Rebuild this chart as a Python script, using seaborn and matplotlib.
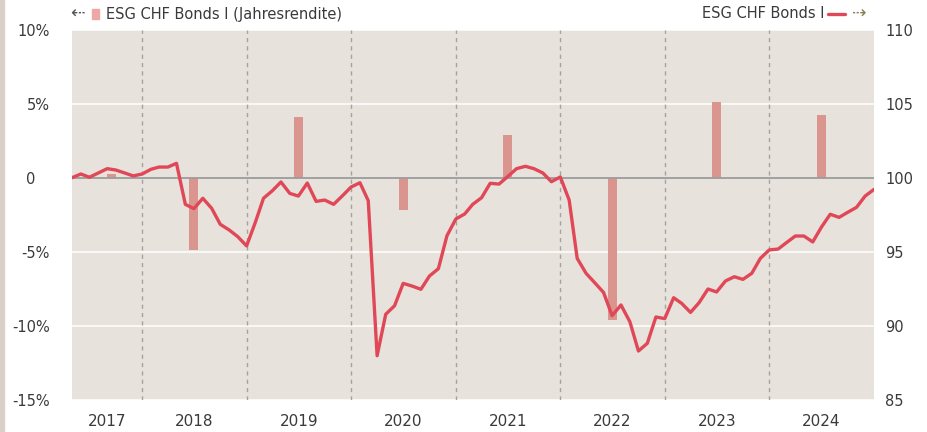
import numpy as np
import pandas as pd
import matplotlib
matplotlib.use("Agg")
import matplotlib.pyplot as plt
import matplotlib.dates as mdates
import seaborn as sns
from matplotlib.lines import Line2D
from matplotlib.patches import Rectangle

# ---------------- data ----------------
series_name = "ESG CHF Bonds I"
bar_name = "ESG CHF Bonds I (Jahresrendite)"
start_month = "2017-05-01"
index_values = [
    100.02, 100.27, 100.05, 100.34, 100.63, 100.54, 100.34, 100.14,                    # 2017
    100.27, 100.59, 100.74, 100.74, 100.99, 98.22, 97.93, 98.63, 97.95, 96.87, 96.49, 96.04,  # 2018
    95.41, 97.03, 98.63, 99.14, 99.73, 98.96, 98.78, 99.66, 98.42, 98.51, 98.22, 98.78,  # 2019
    99.39, 99.68, 98.47, 87.99, 90.79, 91.37, 92.88, 92.70, 92.48, 93.38, 93.87, 96.10,  # 2020
    97.23, 97.57, 98.22, 98.67, 99.64, 99.59, 100.09, 100.63, 100.79, 100.63, 100.34, 99.75,  # 2021
    100.07, 98.51, 94.57, 93.56, 92.93, 92.27, 90.70, 91.42, 90.29, 88.31, 88.83, 90.61,  # 2022
    90.50, 91.91, 91.53, 90.92, 91.58, 92.50, 92.30, 93.04, 93.33, 93.15, 93.56, 94.57,  # 2023
    95.14, 95.20, 95.63, 96.08, 96.08, 95.68, 96.67, 97.55, 97.34, 97.68, 98.02, 98.78,  # 2024
    99.23,                                                                              # 2025
]
bar_dates = ["2017-09-16", "2018-07-01", "2019-07-01", "2020-07-01",
             "2021-07-01", "2022-07-01", "2023-07-01", "2024-07-01"]
bar_returns = [0.25, -4.84, 4.12, -2.16, 2.91, -9.57, 5.14, 4.26]
year_labels = ["2017", "2018", "2019", "2020", "2021", "2022", "2023", "2024"]
left_ticks = [10, 5, 0, -5, -10, -15]
left_labels = ["10%", "5%", "0\u2003", "-5%", "-10%", "-15%"]
right_ticks = [110, 105, 100, 95, 90, 85]
right_labels = ["110", "105", "100", "95", "90", "85"]

# ---------------- style ----------------
LINE_C = "#e04858"
BAR_C = "#d9958e"
BAR_LEG_C = "#eda7a4"
BG = "#e7e2db"
TXT = "#3a3a3a"

sns.set_theme(style="white")
plt.rcParams['font.family'] = ['DejaVu Sans']

W, H = 927, 432
fig = plt.figure(figsize=(W / 100, H / 100), dpi=100)
fig.patch.set_facecolor("white")
fig.patches.append(Rectangle((0, 0), 4 / W, 1, transform=fig.transFigure,
                             color="#d8d0c9", zorder=0))

ax = fig.add_axes([72 / W, 32 / H, 802 / W, 370 / H])
ax.set_facecolor(BG)

dates = pd.date_range(start_month, periods=len(index_values), freq="MS")
df = pd.DataFrame({"date": dates, "value": index_values})
bars = pd.DataFrame({"date": pd.to_datetime(bar_dates), "ret": bar_returns})

# bars (left axis)
ax.bar(bars["date"], bars["ret"], width=31, color=BAR_C, edgecolor="none",
       linewidth=0, zorder=3)

xmin = mdates.date2num(dates[0])
xmax = mdates.date2num(dates[-1])
ax.set_xlim(xmin, xmax)
ax.set_ylim(-15, 10)

# horizontal grid
for t in left_ticks:
    if t == 0:
        ax.axhline(0, color="#9c9c9c", lw=1.3, zorder=4)
    else:
        ax.axhline(t, color="white", lw=1.1, zorder=1)
# vertical year separators
for y in range(2018, 2025):
    ax.axvline(mdates.date2num(pd.Timestamp(f"{y}-01-01")), color="#a3a3a3",
               lw=1.0, ls=(0, (3, 3)), zorder=1)

ax.set_yticks(left_ticks, labels=left_labels)
centers = []
for i, lab in enumerate(year_labels):
    yy = int(lab)
    lo = max(mdates.date2num(pd.Timestamp(f"{yy}-01-01")), xmin)
    hi = min(mdates.date2num(pd.Timestamp(f"{yy + 1}-01-01")), xmax)
    centers.append((lo + hi) / 2)
ax.set_xticks(centers, labels=year_labels)
ax.tick_params(axis="x", length=0, pad=10, labelsize=11, colors=TXT)
ax.tick_params(axis="y", length=0, pad=16, labelsize=10.5, colors=TXT)
for s in ax.spines.values():
    s.set_visible(False)
ax.set_xlabel("")
ax.set_ylabel("")

# line (right axis)
ax2 = ax.twinx()
sns.lineplot(data=df, x="date", y="value", ax=ax2, color=LINE_C, linewidth=2.4,
             zorder=5)
ax2.set_ylim(85, 110)
ax2.set_xlim(xmin, xmax)
ax2.set_yticks(right_ticks, labels=right_labels)
ax2.tick_params(axis="y", length=0, pad=8, labelsize=10.5, colors=TXT)
ax2.set_xlabel("")
ax2.set_ylabel("")
ax2.patch.set_visible(False)
for s in ax2.spines.values():
    s.set_visible(False)
ax2.grid(False)

# legend-like header
ly = 1 - 14 / H
fig.text(70 / W, ly, "\u21e0", ha="left", va="center", fontsize=12.5, color="#555555")
fig.patches.append(Rectangle((92 / W, 1 - 19 / H), 7 / W, 10 / H,
                             transform=fig.transFigure, color=BAR_LEG_C))
fig.text(106 / W, ly, bar_name, ha="left", va="center", fontsize=10.5, color=TXT)

fig.text(824 / W, ly, series_name, ha="right", va="center", fontsize=10.5, color=TXT)
fig.lines.append(Line2D([828 / W, 845 / W], [ly, ly], transform=fig.transFigure,
                        color=LINE_C, lw=2.4))
fig.text(852 / W, ly, "\u21e2", ha="left", va="center", fontsize=12.5, color="#8b7d55")

fig.savefig("out.png", dpi=100)
